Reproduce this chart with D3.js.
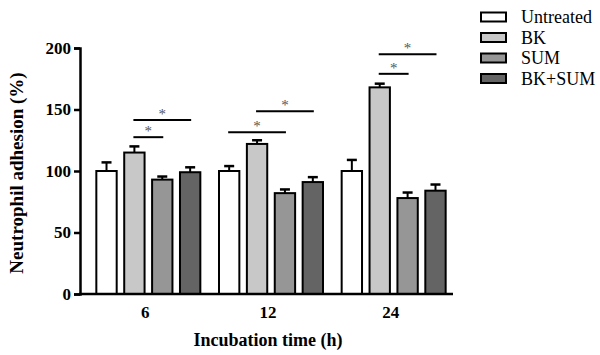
<!DOCTYPE html>
<html><head><meta charset="utf-8">
<script src="https://cdn.jsdelivr.net/npm/d3@7"></script>
<style>body{margin:0;background:#fff}svg{display:block}</style>
</head><body><svg id="c" width="600" height="355"></svg>
<script>
const categories = ["6", "12", "24"];
const seriesNames = ["Untreated", "BK", "SUM", "BK+SUM"];
const seriesColors = ["#ffffff", "#c8c8c8", "#969696", "#646464"];
const means = {
  "Untreated": [100, 100, 100],
  "BK": [115, 122, 168],
  "SUM": [93, 82, 78],
  "BK+SUM": [99, 91, 84]
};
const errors = {
  "Untreated": [7, 4, 9],
  "BK": [5, 3, 3],
  "SUM": [2.5, 3, 4.5],
  "BK+SUM": [4, 4, 5]
};
const yTicks = [0, 50, 100, 150, 200];
// significance brackets: [category, fromSeries, toSeries, yValue]
const brackets = [
  ["6", "BK", "SUM", 127.5],
  ["6", "BK", "BK+SUM", 141.5],
  ["12", "Untreated", "SUM", 131.5],
  ["12", "BK", "BK+SUM", 148.5],
  ["24", "BK", "SUM", 179],
  ["24", "BK", "BK+SUM", 195]
];

const FONT = "'Liberation Serif', 'Times New Roman', serif";
const svg = d3.select("#c");
const y = d3.scaleLinear().domain([0, 200]).range([294, 48]);
const x = d3.scaleBand().domain(categories).range([84, 452]).paddingInner(0).paddingOuter(0);
const x1 = d3.scaleBand().domain(seriesNames).range([-49, 55]).paddingInner(0.27).paddingOuter(0);
const bx = (c, s) => x(c) + x.bandwidth() / 2 + x1(s);

// bars
seriesNames.forEach((s, si) => {
  categories.forEach((c, ci) => {
    const v = means[s][ci], e = errors[s][ci];
    const cx = bx(c, s) + x1.bandwidth() / 2;
    svg.append("line").attr("x1", cx).attr("x2", cx).attr("y1", y(v)).attr("y2", y(v + e))
      .attr("stroke", "#000").attr("stroke-width", 2);
    svg.append("line").attr("x1", cx - 5).attr("x2", cx + 5).attr("y1", y(v + e)).attr("y2", y(v + e))
      .attr("stroke", "#000").attr("stroke-width", 2.5);
    svg.append("rect").attr("x", bx(c, s)).attr("y", y(v)).attr("width", x1.bandwidth())
      .attr("height", y(0) - y(v)).attr("fill", seriesColors[si]).attr("stroke", "#000").attr("stroke-width", 2);
  });
});

// brackets
brackets.forEach(([c, a, b, v]) => {
  const xa = bx(c, a) + x1.bandwidth() / 2, xb = bx(c, b) + x1.bandwidth() / 2;
  svg.append("line").attr("x1", xa - 1).attr("x2", xb + 1).attr("y1", y(v)).attr("y2", y(v))
    .attr("stroke", "#000").attr("stroke-width", 2);
  svg.append("text").attr("x", (xa + xb) / 2).attr("y", y(v) - 1).attr("text-anchor", "middle")
    .style("font-family", FONT).style("font-size", "15px").attr("fill", "#555").text("*");
});

// y axis
const yAxis = svg.append("g").attr("transform", "translate(80,0)")
  .call(d3.axisLeft(y).tickValues(yTicks).tickSize(6).tickPadding(3));
yAxis.select(".domain").attr("stroke-width", 2.5);
yAxis.selectAll(".tick line").attr("stroke-width", 2.5);
yAxis.selectAll("text").style("font-size", "17px").style("font-weight", "bold")
  .style("font-family", FONT).attr("fill", "#000");

// x axis
svg.append("line").attr("x1", 79).attr("x2", 453).attr("y1", 294).attr("y2", 294)
  .attr("stroke", "#000").attr("stroke-width", 2.5);
categories.forEach(c => {
  svg.append("text").attr("x", x(c) + x.bandwidth() / 2).attr("y", 318).attr("text-anchor", "middle")
    .style("font-family", FONT).style("font-size", "17px").style("font-weight", "bold").text(c);
});

svg.append("text").attr("x", 268).attr("y", 346).attr("text-anchor", "middle")
  .style("font-family", FONT).style("font-size", "18px").style("font-weight", "bold").text("Incubation time (h)");
svg.append("text").attr("transform", "translate(23,173) rotate(-90)").attr("text-anchor", "middle")
  .style("font-family", FONT).style("font-size", "19px").style("font-weight", "bold").text("Neutrophil adhesion (%)");

// legend
seriesNames.forEach((s, i) => {
  const ly = 17 + i * 20.5;
  svg.append("rect").attr("x", 481).attr("y", ly - 4.5).attr("width", 25).attr("height", 9)
    .attr("fill", seriesColors[i]).attr("stroke", "#000").attr("stroke-width", 2);
  svg.append("text").attr("x", 521).attr("y", ly + 6).style("font-family", FONT).style("font-size", "18px").text(s);
});
</script></body></html>
